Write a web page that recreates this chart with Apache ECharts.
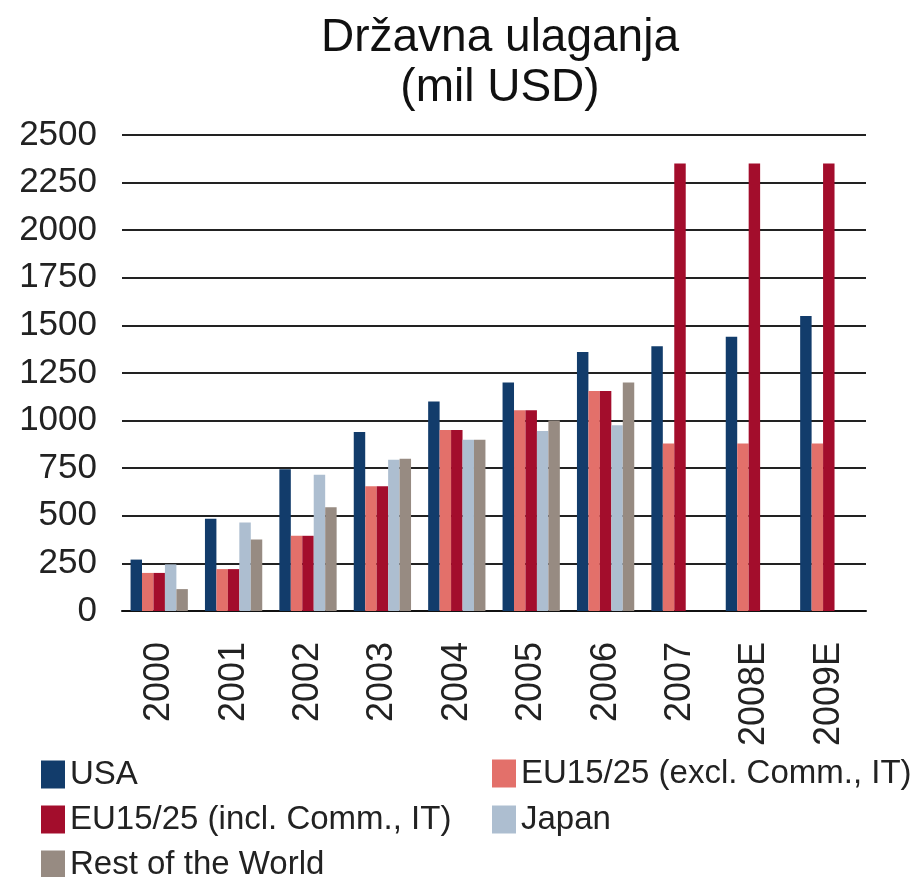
<!DOCTYPE html>
<html>
<head>
<meta charset="utf-8">
<script src="https://cdn.jsdelivr.net/npm/echarts@6/dist/echarts.min.js"></script>
<style>
  html, body { margin: 0; padding: 0; background: #fff; }
  #chart { width: 914px; height: 877px; }
</style>
</head>
<body>
<div id="chart"></div>
<script>
// Government investment by region, million USD
const years = ['2000', '2001', '2002', '2003', '2004', '2005', '2006', '2007', '2008E', '2009E'];

const usa          = [270, 485, 745, 940, 1100, 1200, 1360, 1390, 1440, 1550];
const euExcl       = [200, 220, 395, 655, 950, 1055, 1155, 880, 880, 880];
const euIncl       = [200, 220, 395, 655, 950, 1055, 1155, 2350, 2350, 2350];
const japan        = [245, 465, 715, 795, 900, 945, 975, null, null, null];
const restOfWorld  = [115, 375, 545, 800, 900, 1000, 1200, null, null, null];

const yTicks = { min: 0, max: 2500, interval: 250 };

const seriesDefs = [
  { name: 'USA', data: usa, color: '#123c6b' },
  { name: 'EU15/25 (excl. Comm., IT)', data: euExcl, color: '#e3706a' },
  { name: 'EU15/25 (incl. Comm., IT)', data: euIncl, color: '#a30d2c' },
  { name: 'Japan', data: japan, color: '#adbed0' },
  { name: 'Rest of the World', data: restOfWorld, color: '#978b82' }
];

// legend slots: two columns, rows 45px apart
const legendSlots = [
  { name: 'USA', left: 41, top: 758 },
  { name: 'EU15/25 (excl. Comm., IT)', left: 492, top: 757 },
  { name: 'EU15/25 (incl. Comm., IT)', left: 41, top: 803 },
  { name: 'Japan', left: 492, top: 803 },
  { name: 'Rest of the World', left: 41, top: 848 }
];

const font = 'Liberation Sans, Arial, sans-serif';
const legendText = { fontFamily: font, fontSize: 33, color: '#222', lineHeight: 28 };

const chart = echarts.init(document.getElementById('chart'), null, { renderer: 'canvas' });

chart.setOption({
  animation: false,
  backgroundColor: '#fff',
  title: {
    text: 'Državna ulaganja\n(mil USD)',
    left: 495,
    textAlign: 'center',
    top: 8,
    textStyle: { fontFamily: font, fontSize: 46, fontWeight: 'normal', color: '#111', lineHeight: 50 }
  },
  legend: legendSlots.map(s => ({
    left: s.left,
    top: s.top,
    padding: 0,
    itemWidth: 24,
    itemHeight: 28,
    icon: 'rect',
    data: [s.name],
    textStyle: legendText
  })),
  grid: { left: 122, right: 48, top: 135, bottom: 266, containLabel: false },
  xAxis: {
    type: 'category',
    data: years,
    axisLine: { show: true, lineStyle: { color: '#111', width: 2 } },
    axisTick: { show: false },
    axisLabel: {
      rotate: 90,
      margin: 31,
      fontFamily: font,
      fontSize: 36,
      color: '#222'
    }
  },
  yAxis: {
    type: 'value',
    min: yTicks.min,
    max: yTicks.max,
    interval: yTicks.interval,
    axisLine: { show: false },
    axisTick: { show: false },
    splitLine: { show: true, lineStyle: { color: '#222', width: 2 } },
    axisLabel: {
      margin: 25,
      fontFamily: font,
      fontSize: 35,
      color: '#222',
      formatter: v => String(v)
    }
  },
  series: seriesDefs.map(s => ({
    name: s.name,
    type: 'bar',
    data: s.data,
    barGap: '0%',
    barCategoryGap: '23%',
    itemStyle: { color: s.color }
  }))
});
</script>
</body>
</html>
